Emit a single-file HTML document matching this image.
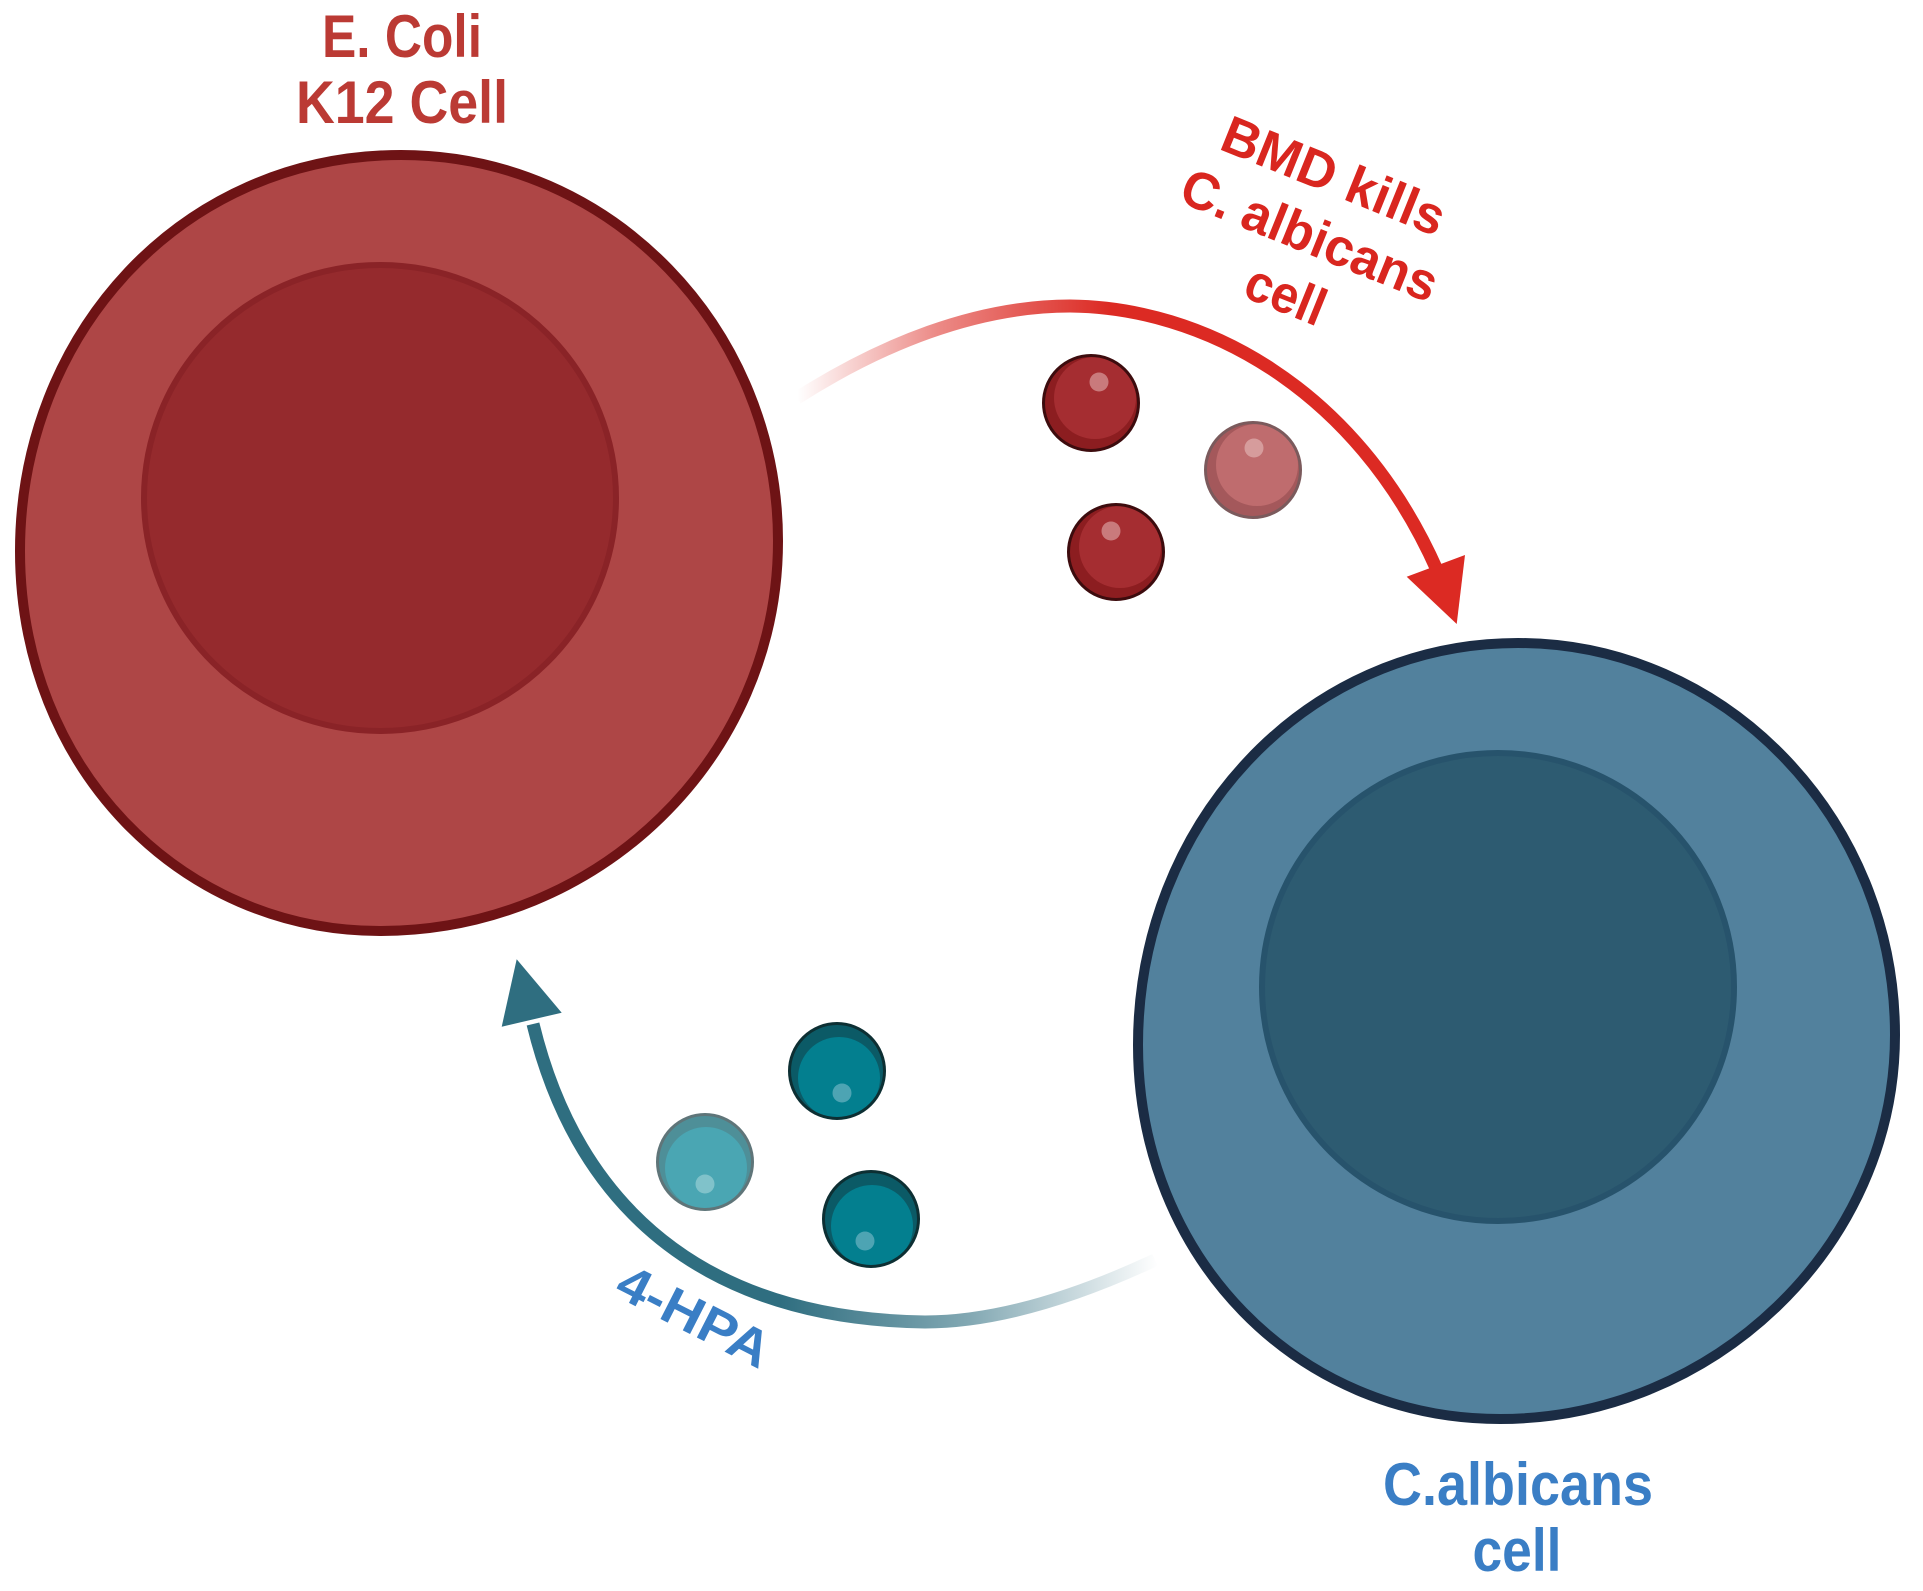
<!DOCTYPE html>
<html>
<head>
<meta charset="utf-8">
<style>
  html, body { margin:0; padding:0; background:#ffffff; }
  body { width:1923px; height:1591px; overflow:hidden; }
  svg { display:block; }
  text { font-family: "Liberation Sans", Arial, sans-serif; font-weight:bold; }
</style>
</head>
<body>
<svg width="1923" height="1591" viewBox="0 0 1923 1591" xmlns="http://www.w3.org/2000/svg">
  <defs>
    <linearGradient id="redGrad" gradientUnits="userSpaceOnUse" x1="797" y1="0" x2="1110" y2="0">
      <stop offset="0" stop-color="#dc2a23" stop-opacity="0"/>
      <stop offset="0.45" stop-color="#dc2a23" stop-opacity="0.55"/>
      <stop offset="1" stop-color="#dc2a23" stop-opacity="1"/>
    </linearGradient>
    <linearGradient id="blueGrad" gradientUnits="userSpaceOnUse" x1="1158" y1="0" x2="780" y2="0">
      <stop offset="0" stop-color="#2f6e80" stop-opacity="0"/>
      <stop offset="0.5" stop-color="#2f6e80" stop-opacity="0.6"/>
      <stop offset="1" stop-color="#2f6e80" stop-opacity="1"/>
    </linearGradient>
  </defs>

  <rect x="0" y="0" width="1923" height="1591" fill="#ffffff"/>

  <!-- E. coli cell -->
  <path d="M401 155 C612 155 778 330 778 541 C778 758 598 931 380 931 C181 931 20 768 20 551 C20 336 180 155 401 155 Z"
        fill="#ae4646" stroke="#6e1315" stroke-width="10"/>
  <ellipse cx="380" cy="498" rx="236" ry="233" fill="#952a2d" stroke="#8a2327" stroke-width="6"/>

  <!-- C. albicans cell -->
  <path d="M1518 643 C1725 643 1895 818 1895 1035 C1895 1247 1712 1419 1500 1419 C1297 1419 1138 1257 1138 1045 C1138 824 1304 643 1518 643 Z"
        fill="#52819d" stroke="#1b2c44" stroke-width="10"/>
  <ellipse cx="1498" cy="987" rx="236" ry="234" fill="#2d5b71" stroke="#27536c" stroke-width="6"/>

  <!-- Red arrow -->
  <path d="M797 398 C880 345 975 306 1070 306 C1200 307 1355 385 1437 570"
        fill="none" stroke="url(#redGrad)" stroke-width="13"/>
  <polygon points="1406.7,576.7 1465,555 1456.7,624" fill="#dc2a23"/>

  <!-- Blue arrow -->
  <path d="M533 1024 C560 1135 640 1318 925 1322 C1000 1322 1080 1295 1155 1260"
        fill="none" stroke="url(#blueGrad)" stroke-width="13"/>
  <polygon points="516.7,959.3 501.7,1026.7 561.7,1012.7" fill="#2f6e80"/>

  <!-- Red particles -->
  <g>
    <circle cx="1091" cy="403" r="47" fill="#8c1d20"/>
    <circle cx="1095" cy="398" r="41" fill="#a52d31"/>
    <circle cx="1091" cy="403" r="47.5" fill="none" stroke="#3d0c0e" stroke-width="3"/>
    <circle cx="1099" cy="382" r="9.5" fill="#c97a7c"/>
  </g>
  <g>
    <circle cx="1253" cy="470" r="47" fill="#a4585b"/>
    <circle cx="1257" cy="465" r="41" fill="#bf6c6e"/>
    <circle cx="1253" cy="470" r="47.5" fill="none" stroke="#7b5a5c" stroke-width="3"/>
    <circle cx="1254" cy="448" r="9.5" fill="#d69c9c"/>
  </g>
  <g>
    <circle cx="1116" cy="552" r="47" fill="#8c1d20"/>
    <circle cx="1120" cy="547" r="41" fill="#a52d31"/>
    <circle cx="1116" cy="552" r="47.5" fill="none" stroke="#3d0c0e" stroke-width="3"/>
    <circle cx="1111" cy="531" r="9.5" fill="#c97a7c"/>
  </g>

  <!-- Teal particles -->
  <g>
    <circle cx="837" cy="1071" r="47" fill="#0b5a66"/>
    <circle cx="839" cy="1078" r="41" fill="#037f8f"/>
    <circle cx="837" cy="1071" r="47.5" fill="none" stroke="#0d2f33" stroke-width="3"/>
    <circle cx="842" cy="1093" r="9.5" fill="#4da4b3"/>
  </g>
  <g>
    <circle cx="705" cy="1162" r="47" fill="#4e8f98"/>
    <circle cx="706" cy="1168" r="41" fill="#4aa6b3"/>
    <circle cx="705" cy="1162" r="47.5" fill="none" stroke="#5f7579" stroke-width="3"/>
    <circle cx="705" cy="1184" r="9.5" fill="#80c2ca"/>
  </g>
  <g>
    <circle cx="871" cy="1219" r="47" fill="#0b5a66"/>
    <circle cx="872" cy="1226" r="41" fill="#037f8f"/>
    <circle cx="871" cy="1219" r="47.5" fill="none" stroke="#0d2f33" stroke-width="3"/>
    <circle cx="865" cy="1241" r="9.5" fill="#4da4b3"/>
  </g>

  <!-- Labels -->
  <text x="402" y="57" font-size="60" fill="#bb3a34" text-anchor="middle" textLength="160" lengthAdjust="spacingAndGlyphs">E. Coli</text>
  <text x="402" y="123" font-size="60" fill="#bb3a34" text-anchor="middle" textLength="212" lengthAdjust="spacingAndGlyphs">K12 Cell</text>

  <text x="1518" y="1505" font-size="60" fill="#3a7ec5" text-anchor="middle" textLength="270" lengthAdjust="spacingAndGlyphs">C.albicans</text>
  <text x="1517" y="1571" font-size="60" fill="#3a7ec5" text-anchor="middle" textLength="89" lengthAdjust="spacingAndGlyphs">cell</text>

  <g transform="translate(1303,252) rotate(22)" fill="#d9261f" font-size="53">
    <text x="0" y="-64" text-anchor="middle" textLength="236" lengthAdjust="spacingAndGlyphs">BMD kills</text>
    <text x="0" y="0" text-anchor="middle" textLength="272" lengthAdjust="spacingAndGlyphs">C. albicans</text>
    <text x="0" y="64" text-anchor="middle" textLength="82" lengthAdjust="spacingAndGlyphs">cell</text>
  </g>

  <g transform="translate(686,1332) rotate(27)" fill="#3a7ec5" font-size="52">
    <text x="0" y="0" text-anchor="middle" textLength="165" lengthAdjust="spacingAndGlyphs">4-HPA</text>
  </g>
</svg>
</body>
</html>
